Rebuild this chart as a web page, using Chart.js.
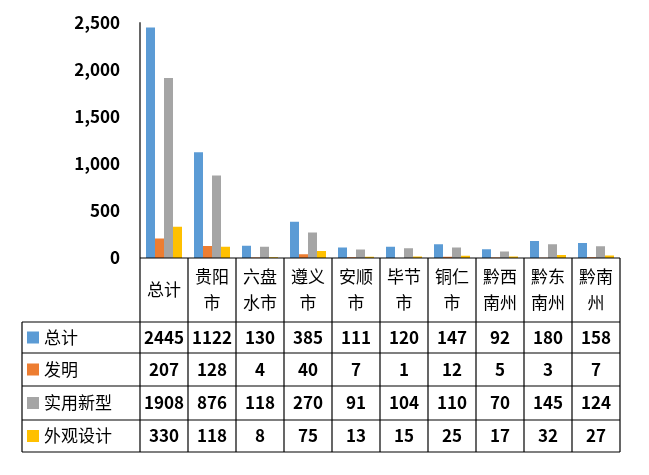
<!DOCTYPE html>
<html><head><meta charset="utf-8">
<script src="https://cdn.jsdelivr.net/npm/chart.js@4"></script>
<style>html,body{margin:0;padding:0;background:#fff}#w{width:649px;height:475px}</style>
</head><body><div id="w"><canvas id="c"></canvas></div>
<script>
const categories = [["总计"],["贵阳","市"],["六盘","水市"],["遵义","市"],["安顺","市"],["毕节","市"],["铜仁","市"],["黔西","南州"],["黔东","南州"],["黔南","州"]];
const seriesNames = ["总计","发明","实用新型","外观设计"];
const total = [2445,1122,130,385,111,120,147,92,180,158];
const invention = [207,128,4,40,7,1,12,5,3,7];
const utility = [1908,876,118,270,91,104,110,70,145,124];
const design = [330,118,8,75,13,15,25,17,32,27];
const colors = ["#5B9BD5","#ED7D31","#A5A5A5","#FFC000"];
const values = [total, invention, utility, design];
const FONT = "'Noto Sans CJK SC', sans-serif";

const tablePlugin = {
  id: 'table',
  afterDraw(chart) {
    const ctx = chart.ctx, ca = chart.chartArea, x = chart.scales.x;
    const left = 22, right = ca.right;
    const rows = [ca.bottom, 322, 353, 386, 420, 452];
    ctx.save();
    ctx.strokeStyle = '#000'; ctx.lineWidth = 1.2;
    // y axis line
    ctx.beginPath(); ctx.moveTo(ca.left, ca.top); ctx.lineTo(ca.left, rows[5]); ctx.stroke();
    // horizontal lines
    ctx.beginPath(); ctx.moveTo(ca.left, rows[0]); ctx.lineTo(right, rows[0]); ctx.stroke();
    for (let i = 1; i < rows.length; i++) {
      ctx.beginPath(); ctx.moveTo(left, rows[i]); ctx.lineTo(right, rows[i]); ctx.stroke();
    }
    ctx.beginPath(); ctx.moveTo(left, rows[1]); ctx.lineTo(left, rows[5]); ctx.stroke();
    const n = categories.length;
    const step = (ca.right - ca.left) / n;
    for (let i = 1; i <= n; i++) {
      const xx = x.getPixelForValue(i - 1) + step / 2;
      ctx.beginPath(); ctx.moveTo(xx, rows[0]); ctx.lineTo(xx, rows[5]); ctx.stroke();
    }
    ctx.fillStyle = '#000'; ctx.textAlign = 'center'; ctx.textBaseline = 'middle';
    ctx.font = '17px ' + FONT;
    categories.forEach((lab, i) => {
      const cx = x.getPixelForValue(i);
      if (lab.length === 1) ctx.fillText(lab[0], cx, 290);
      else { ctx.fillText(lab[0], cx, 277); ctx.fillText(lab[1], cx, 303); }
    });
    for (let r = 0; r < 4; r++) {
      const cy = (rows[r + 1] + rows[r + 2]) / 2;
      ctx.fillStyle = colors[r]; ctx.fillRect(27, cy - 6, 12, 12);
      ctx.fillStyle = '#000'; ctx.textAlign = 'left'; ctx.font = '17px ' + FONT;
      ctx.fillText(seriesNames[r], 44, cy);
      ctx.textAlign = 'center'; ctx.font = 'bold 17px ' + FONT;
      values[r].forEach((v, i) => ctx.fillText(String(v), x.getPixelForValue(i), cy));
    }
    ctx.restore();
  }
};

new Chart(document.getElementById('c'), {
  type: 'bar',
  data: {
    labels: categories.map(c => c.join('')),
    datasets: seriesNames.map((s, i) => ({ label: s, data: values[i], backgroundColor: colors[i], barPercentage: 1, categoryPercentage: 0.75 }))
  },
  options: {
    responsive: true, maintainAspectRatio: false, animation: false, devicePixelRatio: 1,
    layout: { padding: { top: 17, right: 29, bottom: 217, left: 0 } },
    plugins: { legend: { display: false }, tooltip: { enabled: false } },
    scales: {
      x: { display: false },
      y: {
        min: 0, max: 2500,
        border: { display: false },
        grid: { display: false },
        ticks: { stepSize: 500, color: '#000', font: { family: FONT, size: 17, weight: 'bold' }, padding: 12 },
        afterFit(s) { s.width = 140; }
      }
    }
  },
  plugins: [tablePlugin]
});
</script></body></html>
